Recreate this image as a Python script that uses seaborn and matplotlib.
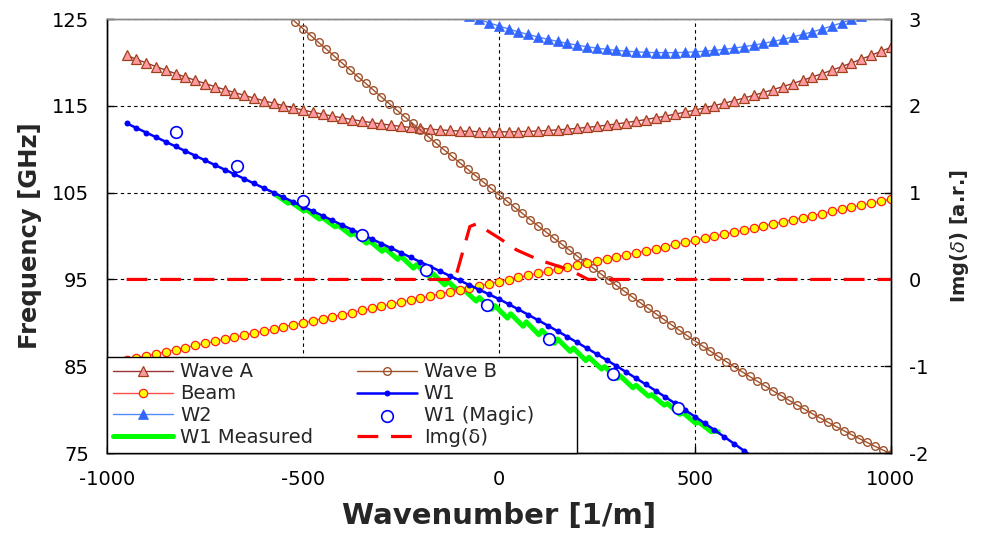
import matplotlib
matplotlib.use("Agg")
import matplotlib.pyplot as plt
import seaborn as sns

sns.set_theme(style="white")
plt.rcParams["font.family"] = ["DejaVu Sans"]
plt.rcParams["mathtext.fontset"] = "dejavusans"
plt.rcParams["axes.unicode_minus"] = False

# ── Data ────────────────────────────────────────────────────────────────
# wavenumber grids [1/m]
K25 = [-1000, -975, -950, -925, -900, -875, -850, -825, -800, -775, -750, -725,
       -700, -675, -650, -625, -600, -575, -550, -525, -500, -475, -450, -425,
       -400, -375, -350, -325, -300, -275, -250, -225, -200, -175, -150, -125,
       -100, -75, -50, -25, 0, 25, 50, 75, 100, 125, 150, 175, 200, 225, 250,
       275, 300, 325, 350, 375, 400, 425, 450, 475, 500, 525, 550, 575, 600,
       625, 650, 675, 700, 725, 750, 775, 800, 825, 850, 875, 900, 925, 950,
       975, 1000]
K20 = [-540, -520, -500, -480, -460, -440, -420, -400, -380, -360, -340, -320,
       -300, -280, -260, -240, -220, -200, -180, -160, -140, -120, -100, -80,
       -60, -40, -20, 0, 20, 40, 60, 80, 100, 120, 140, 160, 180, 200, 220, 240,
       260, 280, 300, 320, 340, 360, 380, 400, 420, 440, 460, 480, 500, 520,
       540, 560, 580, 600, 620, 640, 660, 680, 700, 720, 740, 760, 780, 800,
       820, 840, 860, 880, 900, 920, 940, 960, 980, 1000]

wave_a_k = K25[2:]
wave_a_f = [120.82, 120.37, 119.94, 119.52, 119.11, 118.71, 118.32, 117.94, 117.57,
            117.22, 116.87, 116.53, 116.21, 115.89, 115.59, 115.30, 115.03, 114.76,
            114.51, 114.27, 114.04, 113.82, 113.62, 113.42, 113.24, 113.07, 112.91,
            112.77, 112.63, 112.51, 112.41, 112.31, 112.23, 112.16, 112.10, 112.06,
            112.03, 112.01, 112.00, 112.01, 112.03, 112.06, 112.10, 112.16, 112.23,
            112.31, 112.41, 112.51, 112.63, 112.77, 112.91, 113.07, 113.24, 113.42,
            113.62, 113.82, 114.04, 114.27, 114.51, 114.76, 115.03, 115.30, 115.59,
            115.89, 116.21, 116.53, 116.87, 117.22, 117.57, 117.94, 118.32, 118.71,
            119.11, 119.52, 119.94, 120.37, 120.82, 121.27, 121.73]

wave_b_k = K20
wave_b_f = [125.48, 124.68, 123.89, 123.09, 122.30, 121.51, 120.72, 119.93, 119.15,
            118.36, 117.59, 116.81, 116.03, 115.26, 114.49, 113.73, 112.97, 112.20,
            111.45, 110.69, 109.94, 109.19, 108.45, 107.71, 106.97, 106.23, 105.50,
            104.77, 104.05, 103.32, 102.61, 101.89, 101.18, 100.48, 99.77, 99.08,
            98.38, 97.69, 97.01, 96.33, 95.65, 94.98, 94.31, 93.65, 93.00, 92.34,
            91.70, 91.06, 90.42, 89.79, 89.17, 88.55, 87.94, 87.33, 86.73, 86.13,
            85.54, 84.96, 84.39, 83.82, 83.26, 82.71, 82.16, 81.62, 81.09, 80.56,
            80.05, 79.54, 79.04, 78.55, 78.06, 77.59, 77.12, 76.67, 76.22, 75.78,
            75.35, 74.93]

beam_k = K25
beam_f = [85.25, 85.49, 85.73, 85.96, 86.20, 86.44, 86.68, 86.91, 87.15, 87.39,
          87.63, 87.86, 88.10, 88.34, 88.58, 88.81, 89.05, 89.29, 89.53, 89.76,
          90.00, 90.24, 90.48, 90.71, 90.95, 91.19, 91.43, 91.66, 91.90, 92.14,
          92.38, 92.61, 92.85, 93.09, 93.33, 93.56, 93.80, 94.04, 94.28, 94.51,
          94.75, 94.99, 95.23, 95.46, 95.70, 95.94, 96.18, 96.41, 96.65, 96.89,
          97.13, 97.36, 97.60, 97.84, 98.08, 98.31, 98.55, 98.79, 99.03, 99.26,
          99.50, 99.74, 99.98, 100.21, 100.45, 100.69, 100.93, 101.16, 101.40,
          101.64, 101.88, 102.11, 102.35, 102.59, 102.83, 103.06, 103.30, 103.54,
          103.78, 104.01, 104.25]

w1_k = K25[2:68]
w1_f = [112.99, 112.45, 111.92, 111.39, 110.86, 110.32, 109.79, 109.26, 108.73,
        108.19, 107.66, 107.13, 106.60, 106.06, 105.53, 105.00, 104.47, 103.93,
        103.40, 102.87, 102.34, 101.80, 101.27, 100.74, 100.21, 99.67, 99.14,
        98.61, 98.08, 97.54, 97.01, 96.48, 95.95, 95.41, 94.88, 94.35, 93.82,
        93.28, 92.75, 92.15, 91.55, 90.93, 90.31, 89.68, 89.04, 88.39, 87.74,
        87.07, 86.40, 85.72, 85.03, 84.33, 83.62, 82.91, 82.18, 81.45, 80.71,
        79.96, 79.21, 78.44, 77.66, 76.88, 76.09, 75.29, 74.48, 73.67]

w2_k = K25[37:78]
w2_f = [125.36, 124.95, 124.56, 124.20, 123.85, 123.52, 123.22, 122.93, 122.66,
        122.42, 122.19, 121.99, 121.81, 121.65, 121.51, 121.39, 121.29, 121.22,
        121.16, 121.13, 121.12, 121.13, 121.16, 121.22, 121.29, 121.39, 121.51,
        121.65, 121.81, 121.99, 122.19, 122.42, 122.66, 122.93, 123.22, 123.52,
        123.85, 124.20, 124.56, 124.95, 125.36]

magic_k = [-824, -668, -500, -349, -186, -31, 128, 291, 457]
magic_f = [112.0, 108.1, 104.0, 100.1, 96.1, 92.1, 88.1, 84.1, 80.2]

# measured trace (saw-tooth noise as seen on the chart)
meas_k = [-570, -538, -530, -498, -490, -458, -450, -418, -410, -378, -370, -338,
          -330, -298, -290, -258, -250, -218, -210, -178, -170, -138, -130, -98,
          -90, -58, -50, -18, -10, 22, 30, 62, 70, 102, 110, 142, 150, 182, 190,
          222, 230, 262, 270, 302, 310, 342, 350, 382, 390, 422, 430, 462, 470,
          502, 510, 542, 550, 560]
meas_f = [104.79, 103.78, 103.90, 102.89, 103.01, 101.95, 102.12, 101.06, 101.23,
          100.12, 100.34, 99.18, 99.45, 98.24, 98.56, 97.31, 97.68, 96.30, 96.70,
          95.32, 95.73, 94.37, 94.78, 93.44, 93.85, 92.51, 92.92, 91.57, 91.98,
          90.54, 91.05, 89.60, 90.11, 88.63, 89.13, 87.64, 88.14, 86.71, 87.10,
          85.65, 86.04, 84.68, 84.96, 83.60, 83.88, 82.52, 82.81, 81.55, 81.73,
          80.51, 80.71, 79.46, 79.65, 78.44, 78.58, 77.46, 77.56, 77.45]

img_k = [-950, -112, -74, -57, 3, 45, 105, 181, 228, 1000]
img_v = [0.0, 0.0, 0.61, 0.64, 0.47, 0.34, 0.22, 0.11, 0.0, 0.0]

x_ticks = [-1000, -500, 0, 500, 1000]
y_ticks = [75, 85, 95, 105, 115, 125]
y2_ticks = [-2, -1, 0, 1, 2, 3]

# ── Figure ──────────────────────────────────────────────────────────────
fig = plt.figure(figsize=(9.82, 5.33), dpi=100)
ax = fig.add_axes([0.109, 0.150, 0.798, 0.8143])
ax2 = ax.twinx()

common = dict(ax=ax, legend=False, errorbar=None, estimator=None)

sns.lineplot(x=wave_a_k, y=wave_a_f, color="#993333", linewidth=1, marker="^",
             markersize=7, markerfacecolor="#FF9AA2", markeredgecolor="#A0401A",
             markeredgewidth=0.9, label="Wave A", zorder=3, **common)
sns.lineplot(x=wave_b_k, y=wave_b_f, color="#A0522D", linewidth=1, marker="o",
             markersize=5.5, markerfacecolor="none", markeredgecolor="#A0522D",
             markeredgewidth=1, label="Wave B", zorder=3, **common)
sns.lineplot(x=beam_k, y=beam_f, color="#FF5050", linewidth=1, marker="o",
             markersize=6, markerfacecolor="#FFFF00", markeredgecolor="#FF2020",
             markeredgewidth=0.9, label="Beam", zorder=3, **common)
sns.lineplot(x=meas_k, y=meas_f, color="#00FF00", linewidth=3.6, sort=False,
             label="W1 Measured", zorder=2.2, **common)
sns.lineplot(x=w1_k, y=w1_f, color="#0000FF", linewidth=1.8, marker="o",
             markersize=4.3, markerfacecolor="#0000FF", markeredgecolor="#0000FF",
             markeredgewidth=0, label="W1", zorder=3.2, **common)
sns.lineplot(x=w2_k, y=w2_f, color="#5588FF", linewidth=1, marker="^",
             markersize=7, markerfacecolor="#3366FF", markeredgecolor="#3366FF",
             markeredgewidth=0.5, label="W2", zorder=3, **common)
sns.scatterplot(x=magic_k, y=magic_f, ax=ax, marker="o", s=70, color="white",
                edgecolor="#0000FF", linewidth=1.2, label="W1 (Magic)",
                legend=False, zorder=4)
sns.lineplot(x=img_k, y=img_v, ax=ax2, color="#FF0000", linewidth=2.3,
             linestyle=(0, (6.5, 4)), label="Img(δ)", legend=False,
             errorbar=None, estimator=None)

ax.set_xlim(-1000, 1000)
ax.set_ylim(75, 125)
ax2.set_ylim(-2, 3)
ax.set_xticks(x_ticks)
ax.set_yticks(y_ticks)
ax2.set_yticks(y2_ticks)

ax.grid(True, color="black", linestyle=(0, (3, 3)), linewidth=0.8)
ax.set_axisbelow(True)

ax.tick_params(axis="both", direction="in", length=5, width=1, labelsize=14,
               colors="black", left=True, bottom=True)
ax.tick_params(axis="x", pad=12)
ax.tick_params(axis="y", pad=13)
ax2.tick_params(axis="y", direction="in", length=5, width=1, labelsize=14,
                colors="black", right=True, pad=13)

for a in (ax, ax2):
    for side, sp in a.spines.items():
        sp.set_visible(True)
        sp.set_color("black")
        sp.set_linewidth(1)
    a.spines["top"].set_color("#888888")

ax.set_xlabel("Wavenumber [1/m]", fontsize=21, fontweight="bold")
ax.set_ylabel("Frequency [GHz]", fontsize=17.5, fontweight="bold")
ax2.set_ylabel("Img($\\delta$) [a.r.]", fontsize=14, fontweight="bold")
ax.xaxis.set_label_coords(0.5, -0.112)
ax.yaxis.set_label_coords(-0.083, 0.5)
ax2.yaxis.set_label_coords(1.073, 0.5)

# legend: both axes, row-wise order in 2 columns
h1, l1 = ax.get_legend_handles_labels()
h2, l2 = ax2.get_legend_handles_labels()
lookup = dict(zip(l1 + l2, h1 + h2))
order = ["Wave A", "Beam", "W2", "W1 Measured",
         "Wave B", "W1", "W1 (Magic)", "Img(δ)"]
# trailing blanks keep the second column where it sits on the chart
shown = [o + "      " if o == "W1 (Magic)" else o for o in order]
leg = ax2.legend([lookup[o] for o in order], shown, ncol=2, loc="lower left",
                 bbox_to_anchor=(0, 0, 0.6, 0.235), mode="expand",
                 borderaxespad=0, fontsize=14, frameon=True, fancybox=False,
                 edgecolor="black", framealpha=1, borderpad=0.3,
                 labelspacing=0.15, handlelength=3.1, handletextpad=0.35,
                 columnspacing=1.5, numpoints=1, scatterpoints=1)
leg.get_frame().set_linewidth(1)
leg.set_zorder(10)

fig.savefig("out.png", dpi=100, facecolor="white")
